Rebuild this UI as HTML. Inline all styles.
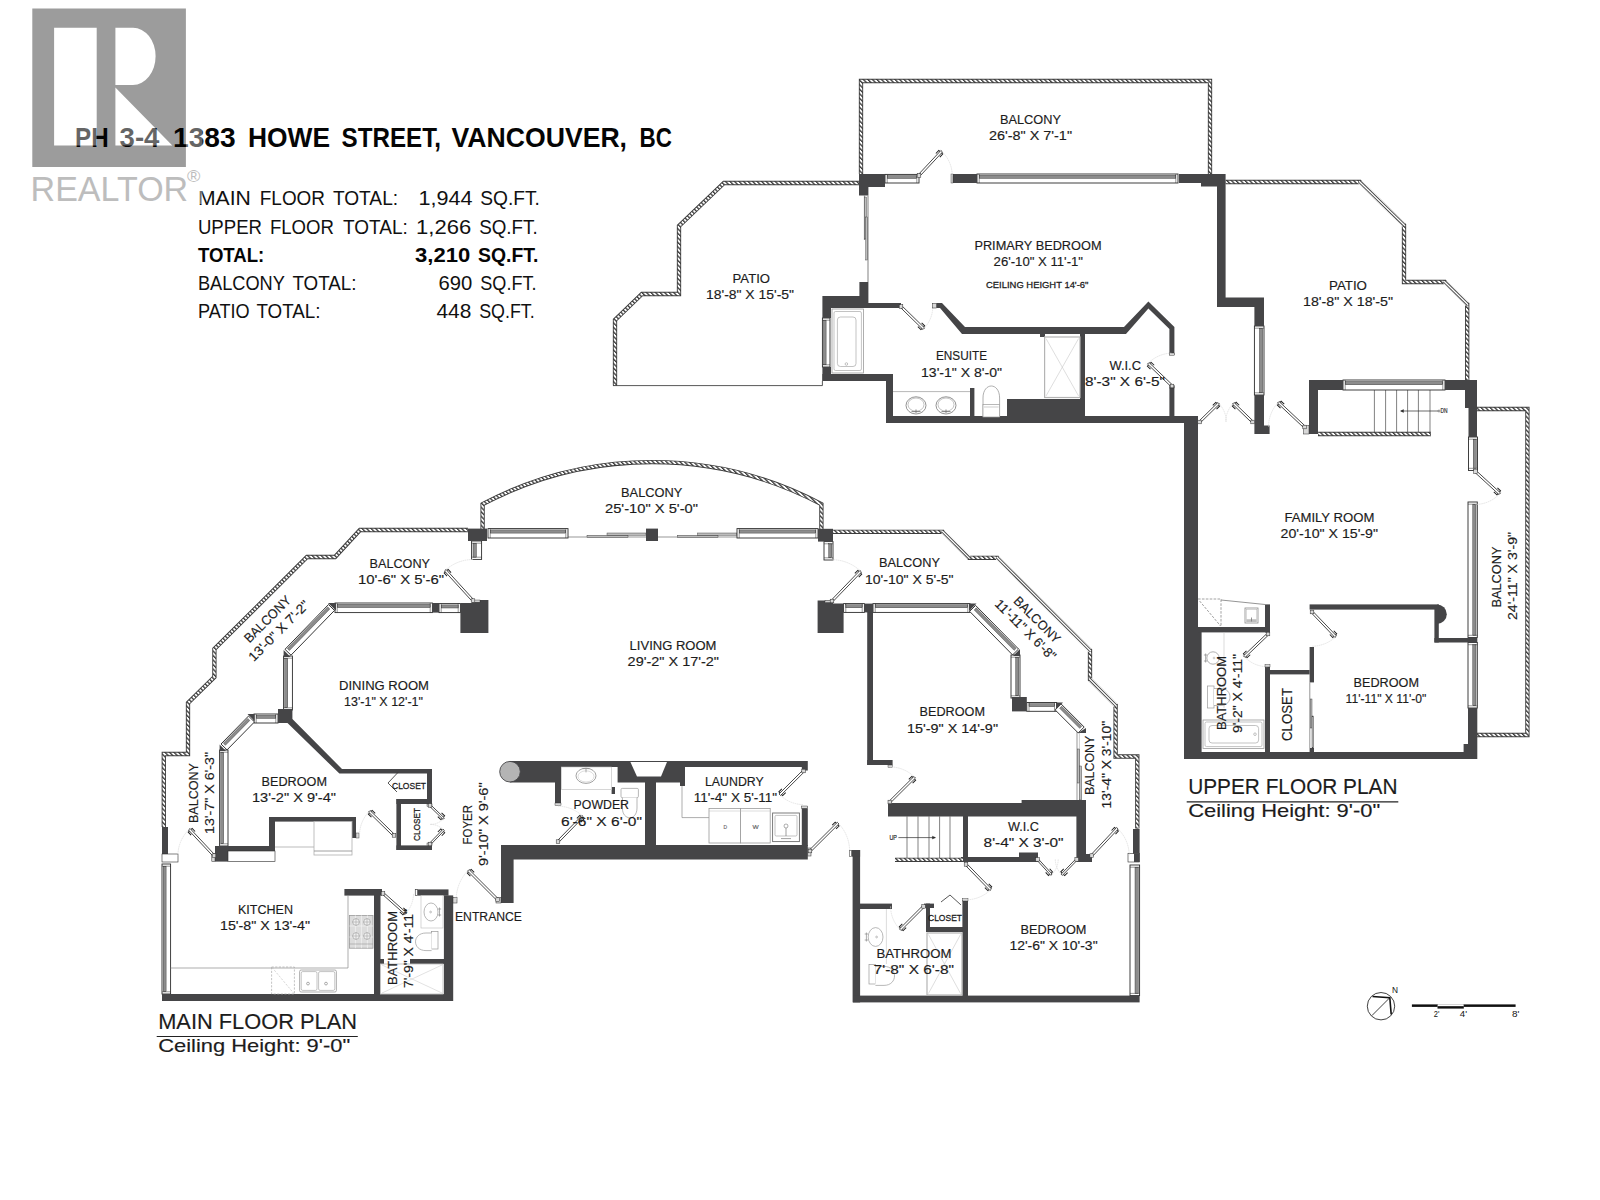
<!DOCTYPE html>
<html lang="en"><head><meta charset="utf-8"><title>PH 3-4 1383 Howe Street, Vancouver, BC - Floor Plan</title>
<style>
html,body{margin:0;padding:0;background:#ffffff;}
body{width:1600px;height:1200px;overflow:hidden;}
svg{display:block;}
svg text{font-family:"Liberation Sans",sans-serif;}
#upper-floor text,#main-floor text{stroke:#1c1c1c;stroke-width:0.16px;}
</style></head><body>
<svg width="1600" height="1200" viewBox="0 0 1600 1200">
<defs><pattern id="hatch" width="3.2" height="3.2" patternUnits="userSpaceOnUse" patternTransform="rotate(-45)"><rect width="3.2" height="3.2" fill="#ffffff"/><rect width="1.35" height="3.2" fill="#3c3c3c"/></pattern></defs>
<rect x="0" y="0" width="1600" height="1200" fill="#ffffff"/>
<g id="upper-floor">
<path d="M861,174 V81 H1210 V174" fill="none" stroke="#3c3c3c" stroke-width="4.3" stroke-linejoin="miter"/>
<path d="M861,174 V81 H1210 V174" fill="none" stroke="url(#hatch)" stroke-width="2.5" stroke-linejoin="miter"/>
<path d="M859,183 H724 L679,226 V294 H642 L615,320 V385.6" fill="none" stroke="#3c3c3c" stroke-width="4.3" stroke-linejoin="miter"/>
<path d="M859,183 H724 L679,226 V294 H642 L615,320 V385.6" fill="none" stroke="url(#hatch)" stroke-width="2.5" stroke-linejoin="miter"/>
<line x1="613" y1="385.6" x2="822.4" y2="385.6" stroke="#2c2c2c" stroke-width="0.8"/>
<line x1="822.4" y1="381" x2="822.4" y2="385.6" stroke="#2c2c2c" stroke-width="0.8"/>
<path d="M1225.6,182 H1360 L1404,225 V282 H1445 L1467.2,304 V380" fill="none" stroke="#3c3c3c" stroke-width="4.3" stroke-linejoin="miter"/>
<path d="M1225.6,182 H1360 L1404,225 V282 H1445 L1467.2,304 V380" fill="none" stroke="url(#hatch)" stroke-width="2.5" stroke-linejoin="miter"/>
<path d="M1477,409 H1527.4 V735 H1477" fill="none" stroke="#3c3c3c" stroke-width="4.3" stroke-linejoin="miter"/>
<path d="M1477,409 H1527.4 V735 H1477" fill="none" stroke="url(#hatch)" stroke-width="2.5" stroke-linejoin="miter"/>
<path d="M1360,182 L1404,225" fill="none" stroke="#ffffff" stroke-width="4.8"/>
<path d="M1359.1,181.2 L1404.9,225.8" fill="none" stroke="#3c3c3c" stroke-width="3.1"/>
<path d="M1359.1,181.2 L1404.9,225.8" fill="none" stroke="#ffffff" stroke-width="1.3"/>
<path d="M1445,282 L1467.2,304" fill="none" stroke="#ffffff" stroke-width="4.8"/>
<path d="M1444.1,281.2 L1468.1,304.8" fill="none" stroke="#3c3c3c" stroke-width="3.1"/>
<path d="M1444.1,281.2 L1468.1,304.8" fill="none" stroke="#ffffff" stroke-width="1.3"/>
<line x1="868" y1="195.6" x2="868" y2="282" stroke="#2c2c2c" stroke-width="0.6"/>
<line x1="864.4" y1="195.6" x2="864.4" y2="240" stroke="#2c2c2c" stroke-width="0.5"/>
<rect x="864.6" y="197" width="1.8" height="42" fill="#bdbdbd" stroke="#2c2c2c" stroke-width="0.4"/>
<rect x="865.8" y="217" width="1.8" height="43" fill="#bdbdbd" stroke="#2c2c2c" stroke-width="0.4"/>
<rect x="885" y="174.4" width="34" height="8.6" fill="#ffffff" stroke="#2c2c2c" stroke-width="0.9"/>
<rect x="887.2" y="175.6" width="29.6" height="2.9" fill="#8c8c8c" stroke="#2c2c2c" stroke-width="0.4"/>
<line x1="887.2" y1="174.4" x2="887.2" y2="183" stroke="#2c2c2c" stroke-width="0.5"/>
<line x1="916.8" y1="174.4" x2="916.8" y2="183" stroke="#2c2c2c" stroke-width="0.5"/>
<rect x="977" y="174" width="201" height="9" fill="#ffffff" stroke="#2c2c2c" stroke-width="0.9"/>
<rect x="979.2" y="175.3" width="196.6" height="3.1" fill="#8c8c8c" stroke="#2c2c2c" stroke-width="0.4"/>
<line x1="979.2" y1="174" x2="979.2" y2="183" stroke="#2c2c2c" stroke-width="0.5"/>
<line x1="1175.8" y1="174" x2="1175.8" y2="183" stroke="#2c2c2c" stroke-width="0.5"/>
<rect x="1254.4" y="326" width="9.6" height="69" fill="#ffffff" stroke="#2c2c2c" stroke-width="0.9"/>
<rect x="1259.4" y="328.2" width="3.3" height="64.6" fill="#8c8c8c" stroke="#2c2c2c" stroke-width="0.4"/>
<line x1="1254.4" y1="328.2" x2="1264" y2="328.2" stroke="#2c2c2c" stroke-width="0.5"/>
<line x1="1254.4" y1="392.8" x2="1264" y2="392.8" stroke="#2c2c2c" stroke-width="0.5"/>
<rect x="822.4" y="318" width="7.6" height="49" fill="#ffffff" stroke="#2c2c2c" stroke-width="0.9"/>
<rect x="823.5" y="320.2" width="2.6" height="44.6" fill="#8c8c8c" stroke="#2c2c2c" stroke-width="0.4"/>
<line x1="822.4" y1="320.2" x2="830" y2="320.2" stroke="#2c2c2c" stroke-width="0.5"/>
<line x1="822.4" y1="364.8" x2="830" y2="364.8" stroke="#2c2c2c" stroke-width="0.5"/>
<rect x="1343" y="380" width="102" height="10" fill="#ffffff" stroke="#2c2c2c" stroke-width="0.9"/>
<rect x="1345.2" y="381.4" width="97.6" height="3.4" fill="#8c8c8c" stroke="#2c2c2c" stroke-width="0.4"/>
<line x1="1345.2" y1="380" x2="1345.2" y2="390" stroke="#2c2c2c" stroke-width="0.5"/>
<line x1="1442.8" y1="380" x2="1442.8" y2="390" stroke="#2c2c2c" stroke-width="0.5"/>
<rect x="1468.5" y="437" width="9" height="33.5" fill="#ffffff" stroke="#2c2c2c" stroke-width="0.9"/>
<rect x="1473.2" y="439.2" width="3.1" height="29.1" fill="#8c8c8c" stroke="#2c2c2c" stroke-width="0.4"/>
<line x1="1468.5" y1="439.2" x2="1477.5" y2="439.2" stroke="#2c2c2c" stroke-width="0.5"/>
<line x1="1468.5" y1="468.3" x2="1477.5" y2="468.3" stroke="#2c2c2c" stroke-width="0.5"/>
<rect x="1468" y="502" width="9.3" height="135.5" fill="#ffffff" stroke="#2c2c2c" stroke-width="0.9"/>
<rect x="1472.8" y="504.2" width="3.2" height="131.1" fill="#8c8c8c" stroke="#2c2c2c" stroke-width="0.4"/>
<line x1="1468" y1="504.2" x2="1477.3" y2="504.2" stroke="#2c2c2c" stroke-width="0.5"/>
<line x1="1468" y1="635.3" x2="1477.3" y2="635.3" stroke="#2c2c2c" stroke-width="0.5"/>
<rect x="1468" y="642.5" width="9.3" height="65.5" fill="#ffffff" stroke="#2c2c2c" stroke-width="0.9"/>
<rect x="1472.8" y="644.7" width="3.2" height="61.1" fill="#8c8c8c" stroke="#2c2c2c" stroke-width="0.4"/>
<line x1="1468" y1="644.7" x2="1477.3" y2="644.7" stroke="#2c2c2c" stroke-width="0.5"/>
<line x1="1468" y1="705.8" x2="1477.3" y2="705.8" stroke="#2c2c2c" stroke-width="0.5"/>
<polygon points="859,174 885,174 885,187 868.4,187 868.4,195.6 859,195.6" fill="#454547"/>
<rect x="952" y="174" width="25" height="9" fill="#454547"/>
<rect x="951" y="174" width="2" height="9" fill="#d8d8d8" stroke="#2c2c2c" stroke-width="0.4"/>
<polygon points="1179,174 1225.6,174 1225.6,297.4 1264,297.4 1264,326 1254.4,326 1254.4,307 1217,307 1217,186.4 1201,186.4 1201,183 1179,183" fill="#454547"/>
<polygon points="1254.4,395 1264,395 1264,425.6 1269.6,425.6 1269.6,434 1254.4,434" fill="#454547"/>
<polygon points="859.4,282 868.4,282 868.4,303 901,303 901,308 831,308 831,318 822.4,318 822.4,296 859.4,296" fill="#454547"/>
<rect x="822.4" y="367" width="8.6" height="14" fill="#454547"/>
<rect x="822.4" y="374" width="70.6" height="7" fill="#454547"/>
<rect x="886" y="374" width="7" height="49" fill="#454547"/>
<rect x="886" y="416" width="312" height="7" fill="#454547"/>
<rect x="970" y="388" width="4.4" height="29" fill="#454547"/>
<rect x="1007" y="399" width="78" height="18" fill="#454547"/>
<rect x="1080" y="334" width="5" height="83" fill="#454547"/>
<rect x="1184" y="416" width="14" height="343" fill="#454547"/>
<rect x="1184" y="628" width="17.6" height="131" fill="#454547"/>
<rect x="1184" y="752" width="293" height="7" fill="#454547"/>
<polygon points="936.4,303 942,303 965,327 1124,327 1148.4,301.6 1174.4,327 1174.4,355 1169.4,355 1169.4,329 1148.4,308.6 1126,334 962,334 940,308 936.4,308" fill="#454547"/>
<rect x="1040" y="334" width="5" height="3" fill="#454547"/>
<rect x="1169.4" y="386" width="5" height="30" fill="#454547"/>
<rect x="1169.4" y="353" width="5" height="2.4" fill="#d8d8d8" stroke="#2c2c2c" stroke-width="0.4"/>
<rect x="1169.4" y="385.6" width="5" height="2.4" fill="#d8d8d8" stroke="#2c2c2c" stroke-width="0.4"/>
<polygon points="1309,380 1343,380 1343,390 1318,390 1318,434 1309,434" fill="#454547"/>
<rect x="1303.6" y="425.6" width="5.4" height="8.4" fill="#d8d8d8" stroke="#2c2c2c" stroke-width="0.5"/>
<polygon points="1445,380 1477,380 1477,437 1468.5,437 1468.5,408 1465,408 1465,390 1445,390" fill="#454547"/>
<rect x="1309.6" y="604.4" width="129.4" height="5.2" fill="#454547"/>
<path d="M1437,604.4 A9.8,9.8 0 0 1 1437,624 Z" fill="#454547"/>
<rect x="1434.4" y="609" width="4.4" height="33.5" fill="#454547"/>
<rect x="1434.4" y="638" width="42.6" height="4.5" fill="#454547"/>
<rect x="1468" y="637.5" width="9.3" height="5" fill="#454547"/>
<rect x="1309.6" y="647" width="4.4" height="35.4" fill="#454547"/>
<rect x="1266" y="670" width="43.6" height="4.4" fill="#454547"/>
<rect x="1265" y="666" width="5" height="86" fill="#454547"/>
<rect x="1198" y="627" width="72" height="5.4" fill="#454547"/>
<rect x="1265" y="604.4" width="5" height="28" fill="#454547"/>
<rect x="1468" y="708" width="9.3" height="51" fill="#454547"/>
<rect x="1463.6" y="744" width="4.4" height="8" fill="#454547"/>
<rect x="1309.6" y="748" width="4.4" height="4" fill="#454547"/>
<line x1="1309.8" y1="682.4" x2="1309.8" y2="748" stroke="#2c2c2c" stroke-width="0.5"/>
<rect x="1310.4" y="699" width="1.6" height="29" fill="#bdbdbd" stroke="#2c2c2c" stroke-width="0.4"/>
<rect x="1312" y="716" width="1.6" height="32" fill="#bdbdbd" stroke="#2c2c2c" stroke-width="0.4"/>
<line x1="1374.4" y1="390" x2="1374.4" y2="433" stroke="#2c2c2c" stroke-width="0.6"/>
<line x1="1385.6" y1="390" x2="1385.6" y2="433" stroke="#2c2c2c" stroke-width="0.6"/>
<line x1="1396.6" y1="390" x2="1396.6" y2="433" stroke="#2c2c2c" stroke-width="0.6"/>
<line x1="1407.6" y1="390" x2="1407.6" y2="433" stroke="#2c2c2c" stroke-width="0.6"/>
<line x1="1418.4" y1="390" x2="1418.4" y2="433" stroke="#2c2c2c" stroke-width="0.6"/>
<line x1="1430" y1="390" x2="1430" y2="433" stroke="#2c2c2c" stroke-width="0.6"/>
<path d="M1318,434 H1431" fill="none" stroke="#3c3c3c" stroke-width="4.3" stroke-linejoin="miter"/>
<path d="M1318,434 H1431" fill="none" stroke="url(#hatch)" stroke-width="2.5" stroke-linejoin="miter"/>
<line x1="1401" y1="411" x2="1439" y2="411" stroke="#2c2c2c" stroke-width="0.7"/>
<path d="M1403.5,409.6 L1400.5,411 L1403.5,412.4 Z" fill="#2c2c2c" stroke="#2c2c2c" stroke-width="0.4"/>
<circle cx="1439" cy="411" r="1" fill="#fff" stroke="#2c2c2c" stroke-width="0.5"/>
<text x="1440.6" y="413.2" font-size="6.4" textLength="7" lengthAdjust="spacingAndGlyphs" fill="#1c1c1c">DN</text>
<rect x="832" y="309" width="31.6" height="64" fill="#fff" stroke="#9a9a9a" stroke-width="0.8"/>
<rect x="834" y="311.5" width="27.4" height="59" fill="#fff" stroke="#9a9a9a" stroke-width="0.6" rx="1.5"/>
<rect x="837.4" y="317" width="18.6" height="49.5" fill="#fff" stroke="#9a9a9a" stroke-width="0.6" rx="3"/>
<circle cx="846.4" cy="364" r="1.3" fill="none" stroke="#9a9a9a" stroke-width="0.6"/>
<line x1="893" y1="391.6" x2="970" y2="391.6" stroke="#9a9a9a" stroke-width="0.7"/>
<ellipse cx="916" cy="405.4" rx="10" ry="8.6" fill="none" stroke="#777" stroke-width="0.8"/>
<ellipse cx="916" cy="404.6" rx="8" ry="6.6" fill="none" stroke="#9a9a9a" stroke-width="0.6"/>
<path d="M916,409.5 v3.4 M911.5,411.6 h9" fill="none" stroke="#777" stroke-width="0.9"/>
<ellipse cx="946" cy="405.4" rx="10" ry="8.6" fill="none" stroke="#777" stroke-width="0.8"/>
<ellipse cx="946" cy="404.6" rx="8" ry="6.6" fill="none" stroke="#9a9a9a" stroke-width="0.6"/>
<path d="M946,409.5 v3.4 M941.5,411.6 h9" fill="none" stroke="#777" stroke-width="0.9"/>
<path d="M983,417 V398 C983,382 999.6,382 999.6,398 V417" fill="#fff" stroke="#9a9a9a" stroke-width="0.8"/>
<rect x="983" y="404.5" width="16.6" height="12.5" fill="#fff" stroke="#9a9a9a" stroke-width="0.7"/>
<line x1="984" y1="407" x2="998.6" y2="407" stroke="#9a9a9a" stroke-width="0.5"/>
<rect x="1044.6" y="337" width="35.4" height="60.5" fill="#fff" stroke="#b4b4b4" stroke-width="1.2"/>
<path d="M1046,338.5 L1078.6,396 M1078.6,338.5 L1046,396" fill="none" stroke="#c8c8c8" stroke-width="0.6"/>
<path d="M1198,599 H1221 V626.5 M1199.6,601 L1220.6,626" fill="none" stroke="#8a8a8a" stroke-width="0.8" stroke-dasharray="2.6 1.3"/>
<path d="M1221,600 L1265,604.5" fill="none" stroke="#7a7a7a" stroke-width="0.8"/>
<rect x="1245" y="608" width="13" height="15" fill="#fff" stroke="#8a8a8a" stroke-width="0.8"/>
<rect x="1246.2" y="609.4" width="10.6" height="10" fill="#fff" stroke="#b0b0b0" stroke-width="0.5"/>
<rect x="1246.2" y="619.6" width="10.6" height="2.4" fill="#bdbdbd"/>
<path d="M1251.5,617.5 v4" fill="none" stroke="#777" stroke-width="0.8"/>
<path d="M1224,632.4 V708" fill="none" stroke="#c4c4c4" stroke-width="0.6"/>
<circle cx="1213" cy="658" r="6.2" fill="none" stroke="#9a9a9a" stroke-width="0.8"/>
<circle cx="1214" cy="658" r="0.9" fill="none" stroke="#999" stroke-width="0.5"/>
<path d="M1205.6,653.5 v9 M1203.9,655 h3.4 M1203.9,661 h3.4" fill="none" stroke="#8a8a8a" stroke-width="0.7"/>
<rect x="1207.5" y="686" width="6.5" height="22" fill="#fff" stroke="#9a9a9a" stroke-width="0.7"/>
<path d="M1214,688.5 H1221 C1233,688.5 1233,705.5 1221,705.5 H1214" fill="#fff" stroke="#9a9a9a" stroke-width="0.7"/>
<rect x="1203" y="720" width="61" height="28.6" fill="#fff" stroke="#9a9a9a" stroke-width="0.8"/>
<rect x="1205" y="722" width="57" height="24.6" fill="#fff" stroke="#9a9a9a" stroke-width="0.6" rx="1.5"/>
<rect x="1209" y="725.5" width="49.6" height="17.5" fill="#fff" stroke="#9a9a9a" stroke-width="0.6" rx="3"/>
<circle cx="1255" cy="734.2" r="1.3" fill="none" stroke="#9a9a9a" stroke-width="0.6"/>
<path d="M941.7,151.3 A33.2,33.2 0 0 1 952.2,175.5" fill="none" stroke="#dadada" stroke-width="0.7" stroke-dasharray="1.6 0.6"/>
<g transform="translate(919,175.5) rotate(-46.9)">
<rect x="0" y="-1.1" width="33.2" height="2.2" fill="#ffffff" stroke="#2c2c2c" stroke-width="0.8"/>
<path d="M27.6,-2.7 h4.2 v1.5 M27.6,2.7 h4.2 v-1.5" fill="none" stroke="#222" stroke-width="1"/>
</g>
<rect x="917.2" y="173.7" width="3.6" height="3.6" fill="#d8d8d8" stroke="#2c2c2c" stroke-width="0.5"/>
<path d="M923.7,328.7 A31.8,31.8 0 0 0 932.8,306.5" fill="none" stroke="#dadada" stroke-width="0.7" stroke-dasharray="1.6 0.6"/>
<g transform="translate(901,306.5) rotate(44.3)">
<rect x="0" y="-1.1" width="31.8" height="2.2" fill="#ffffff" stroke="#2c2c2c" stroke-width="0.8"/>
<path d="M26.2,-2.7 h4.2 v1.5 M26.2,2.7 h4.2 v-1.5" fill="none" stroke="#222" stroke-width="1"/>
</g>
<rect x="899.2" y="304.7" width="3.6" height="3.6" fill="#d8d8d8" stroke="#2c2c2c" stroke-width="0.5"/>
<rect x="932.4" y="303.4" width="4" height="4.6" fill="#d8d8d8" stroke="#2c2c2c" stroke-width="0.5"/>
<path d="M1148.3,363.3 A32.8,32.8 0 0 1 1172,353.2" fill="none" stroke="#dadada" stroke-width="0.7" stroke-dasharray="1.6 0.6"/>
<g transform="translate(1172,386) rotate(-136.3)">
<rect x="0" y="-1.1" width="32.8" height="2.2" fill="#ffffff" stroke="#2c2c2c" stroke-width="0.8"/>
<path d="M27.2,-2.7 h4.2 v1.5 M27.2,2.7 h4.2 v-1.5" fill="none" stroke="#222" stroke-width="1"/>
</g>
<rect x="1170.2" y="384.2" width="3.6" height="3.6" fill="#d8d8d8" stroke="#2c2c2c" stroke-width="0.5"/>
<path d="M1218.7,403.3 A26.7,26.7 0 0 1 1226.3,422" fill="none" stroke="#dadada" stroke-width="0.7" stroke-dasharray="1.6 0.6"/>
<g transform="translate(1199.6,422) rotate(-44.4)">
<rect x="0" y="-1.1" width="26.7" height="2.2" fill="#ffffff" stroke="#2c2c2c" stroke-width="0.8"/>
<path d="M21.1,-2.7 h4.2 v1.5 M21.1,2.7 h4.2 v-1.5" fill="none" stroke="#222" stroke-width="1"/>
</g>
<rect x="1197.8" y="420.2" width="3.6" height="3.6" fill="#d8d8d8" stroke="#2c2c2c" stroke-width="0.5"/>
<path d="M1233.3,403.3 A26.9,26.9 0 0 0 1225.7,422" fill="none" stroke="#dadada" stroke-width="0.7" stroke-dasharray="1.6 0.6"/>
<g transform="translate(1252.6,422) rotate(-135.9)">
<rect x="0" y="-1.1" width="26.9" height="2.2" fill="#ffffff" stroke="#2c2c2c" stroke-width="0.8"/>
<path d="M21.3,-2.7 h4.2 v1.5 M21.3,2.7 h4.2 v-1.5" fill="none" stroke="#222" stroke-width="1"/>
</g>
<rect x="1250.8" y="420.2" width="3.6" height="3.6" fill="#d8d8d8" stroke="#2c2c2c" stroke-width="0.5"/>
<path d="M1278.3,402.3 A36.1,36.1 0 0 0 1268.5,427" fill="none" stroke="#dadada" stroke-width="0.7" stroke-dasharray="1.6 0.6"/>
<g transform="translate(1304.6,427) rotate(-136.8)">
<rect x="0" y="-1.1" width="36.1" height="2.2" fill="#ffffff" stroke="#2c2c2c" stroke-width="0.8"/>
<path d="M30.5,-2.7 h4.2 v1.5 M30.5,2.7 h4.2 v-1.5" fill="none" stroke="#222" stroke-width="1"/>
</g>
<rect x="1302.8" y="425.2" width="3.6" height="3.6" fill="#d8d8d8" stroke="#2c2c2c" stroke-width="0.5"/>
<path d="M1499.7,493.7 A32.9,32.9 0 0 1 1475.5,504.4" fill="none" stroke="#dadada" stroke-width="0.7" stroke-dasharray="1.6 0.6"/>
<g transform="translate(1475.5,471.5) rotate(42.5)">
<rect x="0" y="-1.1" width="32.9" height="2.2" fill="#ffffff" stroke="#2c2c2c" stroke-width="0.8"/>
<path d="M27.3,-2.7 h4.2 v1.5 M27.3,2.7 h4.2 v-1.5" fill="none" stroke="#222" stroke-width="1"/>
</g>
<rect x="1473.7" y="469.7" width="3.6" height="3.6" fill="#d8d8d8" stroke="#2c2c2c" stroke-width="0.5"/>
<path d="M1335.7,636.7 A34.2,34.2 0 0 1 1312,646.2" fill="none" stroke="#dadada" stroke-width="0.7" stroke-dasharray="1.6 0.6"/>
<g transform="translate(1312,612) rotate(46.2)">
<rect x="0" y="-1.1" width="34.2" height="2.2" fill="#ffffff" stroke="#2c2c2c" stroke-width="0.8"/>
<path d="M28.6,-2.7 h4.2 v1.5 M28.6,2.7 h4.2 v-1.5" fill="none" stroke="#222" stroke-width="1"/>
</g>
<rect x="1310.2" y="610.2" width="3.6" height="3.6" fill="#d8d8d8" stroke="#2c2c2c" stroke-width="0.5"/>
<path d="M1244.3,656.7 A32.8,32.8 0 0 0 1268,666.8" fill="none" stroke="#dadada" stroke-width="0.7" stroke-dasharray="1.6 0.6"/>
<g transform="translate(1268,634) rotate(136.3)">
<rect x="0" y="-1.1" width="32.8" height="2.2" fill="#ffffff" stroke="#2c2c2c" stroke-width="0.8"/>
<path d="M27.2,-2.7 h4.2 v1.5 M27.2,2.7 h4.2 v-1.5" fill="none" stroke="#222" stroke-width="1"/>
</g>
<rect x="1266.2" y="632.2" width="3.6" height="3.6" fill="#d8d8d8" stroke="#2c2c2c" stroke-width="0.5"/>
<rect x="1265" y="664.5" width="5" height="2.5" fill="#d8d8d8" stroke="#2c2c2c" stroke-width="0.4"/>
<text x="1000" y="124.4" font-size="13.2" textLength="61" lengthAdjust="spacingAndGlyphs" fill="#1c1c1c">BALCONY</text>
<text x="989" y="140.4" font-size="13.2" textLength="83" lengthAdjust="spacingAndGlyphs" fill="#1c1c1c">26'-8" X 7'-1"</text>
<text x="974.4" y="250" font-size="13.2" textLength="127.2" lengthAdjust="spacingAndGlyphs" fill="#1c1c1c">PRIMARY BEDROOM</text>
<text x="993.6" y="266.4" font-size="13.2" textLength="89.4" lengthAdjust="spacingAndGlyphs" fill="#1c1c1c">26'-10" X 11'-1"</text>
<text x="986" y="287.6" font-size="9.7" textLength="102.4" lengthAdjust="spacingAndGlyphs" fill="#1c1c1c" style="stroke-width:0.28px">CEILING HEIGHT 14'-6"</text>
<text x="732.6" y="283" font-size="13.2" textLength="37.4" lengthAdjust="spacingAndGlyphs" fill="#1c1c1c">PATIO</text>
<text x="706" y="299.4" font-size="13.2" textLength="88" lengthAdjust="spacingAndGlyphs" fill="#1c1c1c">18'-8" X 15'-5"</text>
<text x="1329" y="290.4" font-size="13.2" textLength="38" lengthAdjust="spacingAndGlyphs" fill="#1c1c1c">PATIO</text>
<text x="1303" y="306.4" font-size="13.2" textLength="90" lengthAdjust="spacingAndGlyphs" fill="#1c1c1c">18'-8" X 18'-5"</text>
<text x="936" y="360.4" font-size="13.2" textLength="51" lengthAdjust="spacingAndGlyphs" fill="#1c1c1c">ENSUITE</text>
<text x="921" y="377" font-size="13.2" textLength="81" lengthAdjust="spacingAndGlyphs" fill="#1c1c1c">13'-1" X 8'-0"</text>
<text x="1109.4" y="370" font-size="13.2" textLength="31.6" lengthAdjust="spacingAndGlyphs" fill="#1c1c1c">W.I.C</text>
<text x="1085" y="386.4" font-size="13.2" textLength="80" lengthAdjust="spacingAndGlyphs" fill="#1c1c1c">8'-3" X 6'-5"</text>
<text x="1284.4" y="521.6" font-size="13.2" textLength="90" lengthAdjust="spacingAndGlyphs" fill="#1c1c1c">FAMILY ROOM</text>
<text x="1280.6" y="538" font-size="13.2" textLength="97.4" lengthAdjust="spacingAndGlyphs" fill="#1c1c1c">20'-10" X 15'-9"</text>
<text x="1353.6" y="687" font-size="13.2" textLength="65.4" lengthAdjust="spacingAndGlyphs" fill="#1c1c1c">BEDROOM</text>
<text x="1345.6" y="703" font-size="13.2" textLength="80.8" lengthAdjust="spacingAndGlyphs" fill="#1c1c1c">11'-11" X 11'-0"</text>
<text transform="translate(1292,714.5) rotate(-90)" x="-26.5" y="0" font-size="15" textLength="53" lengthAdjust="spacingAndGlyphs" fill="#1c1c1c">CLOSET</text>
<text transform="translate(1225.6,693) rotate(-90)" x="-37" y="0" font-size="13.2" textLength="74" lengthAdjust="spacingAndGlyphs" fill="#1c1c1c">BATHROOM</text>
<text transform="translate(1241.6,693.5) rotate(-90)" x="-39.5" y="0" font-size="13.2" textLength="79" lengthAdjust="spacingAndGlyphs" fill="#1c1c1c">9'-2" X 4'-11"</text>
<text transform="translate(1501,577) rotate(-90)" x="-30.5" y="0" font-size="13.2" textLength="61" lengthAdjust="spacingAndGlyphs" fill="#1c1c1c">BALCONY</text>
<text transform="translate(1516.8,576) rotate(-90)" x="-44" y="0" font-size="13.2" textLength="88" lengthAdjust="spacingAndGlyphs" fill="#1c1c1c">24'-11" X 3'-9"</text>
<text x="1188.2" y="794" font-size="22.9" textLength="209.3" lengthAdjust="spacingAndGlyphs" fill="#1c1c1c">UPPER FLOOR PLAN</text>
<line x1="1186.7" y1="801.8" x2="1398.3" y2="801.8" stroke="#222" stroke-width="1.2"/>
<text x="1188.2" y="817.3" font-size="18.1" textLength="192" lengthAdjust="spacingAndGlyphs" fill="#1c1c1c">Ceiling Height: 9'-0"</text>
</g>
<g id="main-floor">
<path d="M468,530 H360 L335,557 H307 L214.4,649 V677 L188,703 V754 H163.8 V827" fill="none" stroke="#3c3c3c" stroke-width="4.3" stroke-linejoin="miter"/>
<path d="M468,530 H360 L335,557 H307 L214.4,649 V677 L188,703 V754 H163.8 V827" fill="none" stroke="url(#hatch)" stroke-width="2.5" stroke-linejoin="miter"/>
<path d="M482.6,529 V504.2 A362,362 0 0 1 821.4,504.2 V529" fill="none" stroke="#3c3c3c" stroke-width="4.3" stroke-linejoin="miter"/>
<path d="M482.6,529 V504.2 A362,362 0 0 1 821.4,504.2 V529" fill="none" stroke="url(#hatch)" stroke-width="2.5" stroke-linejoin="miter"/>
<path d="M833,531.8 H943 L969,557.8 H997.6 L1090,650.2 V679.6 L1115.6,705.2 V756.5 H1137.3 V828.4" fill="none" stroke="#3c3c3c" stroke-width="4.3" stroke-linejoin="miter"/>
<path d="M833,531.8 H943 L969,557.8 H997.6 L1090,650.2 V679.6 L1115.6,705.2 V756.5 H1137.3 V828.4" fill="none" stroke="url(#hatch)" stroke-width="2.5" stroke-linejoin="miter"/>
<path d="M943,531.8 L969,557.8" fill="none" stroke="#ffffff" stroke-width="4.8"/>
<path d="M942.2,531 L969.8,558.6" fill="none" stroke="#3c3c3c" stroke-width="3.1"/>
<path d="M942.2,531 L969.8,558.6" fill="none" stroke="#ffffff" stroke-width="1.3"/>
<path d="M997.6,557.8 L1090,650.2" fill="none" stroke="#ffffff" stroke-width="4.8"/>
<path d="M996.8,557 L1090.8,651" fill="none" stroke="#3c3c3c" stroke-width="3.1"/>
<path d="M996.8,557 L1090.8,651" fill="none" stroke="#ffffff" stroke-width="1.3"/>
<path d="M1090,679.6 L1115.6,705.2" fill="none" stroke="#ffffff" stroke-width="4.8"/>
<path d="M1089.2,678.8 L1116.4,706" fill="none" stroke="#3c3c3c" stroke-width="3.1"/>
<path d="M1089.2,678.8 L1116.4,706" fill="none" stroke="#ffffff" stroke-width="1.3"/>
<line x1="568" y1="537" x2="646" y2="537" stroke="#2c2c2c" stroke-width="0.5"/>
<rect x="587" y="535.2" width="41" height="2.2" fill="#bdbdbd" stroke="#2c2c2c" stroke-width="0.4"/>
<rect x="607" y="533" width="39" height="2.2" fill="#bdbdbd" stroke="#2c2c2c" stroke-width="0.4"/>
<line x1="658" y1="537" x2="737" y2="537" stroke="#2c2c2c" stroke-width="0.5"/>
<rect x="677.6" y="535.2" width="40.4" height="2.2" fill="#bdbdbd" stroke="#2c2c2c" stroke-width="0.4"/>
<rect x="697.6" y="533" width="39.4" height="2.2" fill="#bdbdbd" stroke="#2c2c2c" stroke-width="0.4"/>
<line x1="1077" y1="732" x2="1077" y2="800" stroke="#2c2c2c" stroke-width="0.5"/>
<line x1="1079.4" y1="732" x2="1079.4" y2="800" stroke="#999" stroke-width="0.5"/>
<rect x="1077.6" y="749" width="2" height="34" fill="#bdbdbd" stroke="#2c2c2c" stroke-width="0.4"/>
<rect x="1079.6" y="766" width="2" height="34" fill="#bdbdbd" stroke="#2c2c2c" stroke-width="0.4"/>
<rect x="488" y="528.6" width="80" height="9.4" fill="#ffffff" stroke="#2c2c2c" stroke-width="0.9"/>
<rect x="490.2" y="529.9" width="75.6" height="3.2" fill="#8c8c8c" stroke="#2c2c2c" stroke-width="0.4"/>
<line x1="490.2" y1="528.6" x2="490.2" y2="538" stroke="#2c2c2c" stroke-width="0.5"/>
<line x1="565.8" y1="528.6" x2="565.8" y2="538" stroke="#2c2c2c" stroke-width="0.5"/>
<rect x="737" y="528.6" width="81" height="9.4" fill="#ffffff" stroke="#2c2c2c" stroke-width="0.9"/>
<rect x="739.2" y="529.9" width="76.6" height="3.2" fill="#8c8c8c" stroke="#2c2c2c" stroke-width="0.4"/>
<line x1="739.2" y1="528.6" x2="739.2" y2="538" stroke="#2c2c2c" stroke-width="0.5"/>
<line x1="815.8" y1="528.6" x2="815.8" y2="538" stroke="#2c2c2c" stroke-width="0.5"/>
<rect x="471.6" y="541" width="10" height="18.4" fill="#ffffff" stroke="#2c2c2c" stroke-width="0.9"/>
<rect x="473" y="543.2" width="3.4" height="14" fill="#8c8c8c" stroke="#2c2c2c" stroke-width="0.4"/>
<line x1="471.6" y1="543.2" x2="481.6" y2="543.2" stroke="#2c2c2c" stroke-width="0.5"/>
<line x1="471.6" y1="557.2" x2="481.6" y2="557.2" stroke="#2c2c2c" stroke-width="0.5"/>
<rect x="824" y="541.6" width="9" height="18.4" fill="#ffffff" stroke="#2c2c2c" stroke-width="0.9"/>
<rect x="828.7" y="543.8" width="3.1" height="14" fill="#8c8c8c" stroke="#2c2c2c" stroke-width="0.4"/>
<line x1="824" y1="543.8" x2="833" y2="543.8" stroke="#2c2c2c" stroke-width="0.5"/>
<line x1="824" y1="557.8" x2="833" y2="557.8" stroke="#2c2c2c" stroke-width="0.5"/>
<rect x="335" y="603" width="97.4" height="9.6" fill="#ffffff" stroke="#2c2c2c" stroke-width="0.9"/>
<rect x="337.2" y="604.3" width="93" height="3.3" fill="#8c8c8c" stroke="#2c2c2c" stroke-width="0.4"/>
<line x1="337.2" y1="603" x2="337.2" y2="612.6" stroke="#2c2c2c" stroke-width="0.5"/>
<line x1="430.2" y1="603" x2="430.2" y2="612.6" stroke="#2c2c2c" stroke-width="0.5"/>
<rect x="439" y="603.6" width="21.4" height="9" fill="#ffffff" stroke="#2c2c2c" stroke-width="0.9"/>
<rect x="441.2" y="604.9" width="17" height="3.1" fill="#8c8c8c" stroke="#2c2c2c" stroke-width="0.4"/>
<line x1="441.2" y1="603.6" x2="441.2" y2="612.6" stroke="#2c2c2c" stroke-width="0.5"/>
<line x1="458.2" y1="603.6" x2="458.2" y2="612.6" stroke="#2c2c2c" stroke-width="0.5"/>
<g transform="translate(331.5,607.5) rotate(134.2)">
<rect x="0" y="-4.2" width="62.4" height="8.4" fill="#ffffff" stroke="#2c2c2c" stroke-width="0.9"/>
<rect x="2.2" y="0.2" width="58" height="2.9" fill="#8c8c8c" stroke="#2c2c2c" stroke-width="0.4"/>
</g>
<rect x="283.6" y="656" width="8.8" height="54" fill="#ffffff" stroke="#2c2c2c" stroke-width="0.9"/>
<rect x="284.8" y="658.2" width="3" height="49.6" fill="#8c8c8c" stroke="#2c2c2c" stroke-width="0.4"/>
<line x1="283.6" y1="658.2" x2="292.4" y2="658.2" stroke="#2c2c2c" stroke-width="0.5"/>
<line x1="283.6" y1="707.8" x2="292.4" y2="707.8" stroke="#2c2c2c" stroke-width="0.5"/>
<rect x="254" y="714" width="24" height="9" fill="#ffffff" stroke="#2c2c2c" stroke-width="0.9"/>
<rect x="256.2" y="715.3" width="19.6" height="3.1" fill="#8c8c8c" stroke="#2c2c2c" stroke-width="0.4"/>
<line x1="256.2" y1="714" x2="256.2" y2="723" stroke="#2c2c2c" stroke-width="0.5"/>
<line x1="275.8" y1="714" x2="275.8" y2="723" stroke="#2c2c2c" stroke-width="0.5"/>
<g transform="translate(251.5,719) rotate(134.5)">
<rect x="0" y="-4.2" width="39.2" height="8.4" fill="#ffffff" stroke="#2c2c2c" stroke-width="0.9"/>
<rect x="2.2" y="0.2" width="34.8" height="2.9" fill="#8c8c8c" stroke="#2c2c2c" stroke-width="0.4"/>
</g>
<rect x="219.6" y="750" width="8.4" height="96" fill="#ffffff" stroke="#2c2c2c" stroke-width="0.9"/>
<rect x="220.8" y="752.2" width="2.9" height="91.6" fill="#8c8c8c" stroke="#2c2c2c" stroke-width="0.4"/>
<line x1="219.6" y1="752.2" x2="228" y2="752.2" stroke="#2c2c2c" stroke-width="0.5"/>
<line x1="219.6" y1="843.8" x2="228" y2="843.8" stroke="#2c2c2c" stroke-width="0.5"/>
<rect x="162" y="864" width="8.6" height="130" fill="#ffffff" stroke="#2c2c2c" stroke-width="0.9"/>
<rect x="163.2" y="866.2" width="2.9" height="125.6" fill="#8c8c8c" stroke="#2c2c2c" stroke-width="0.4"/>
<line x1="162" y1="866.2" x2="170.6" y2="866.2" stroke="#2c2c2c" stroke-width="0.5"/>
<line x1="162" y1="991.8" x2="170.6" y2="991.8" stroke="#2c2c2c" stroke-width="0.5"/>
<rect x="843.6" y="603.6" width="20.8" height="8.8" fill="#ffffff" stroke="#2c2c2c" stroke-width="0.9"/>
<rect x="845.8" y="604.8" width="16.4" height="3" fill="#8c8c8c" stroke="#2c2c2c" stroke-width="0.4"/>
<line x1="845.8" y1="603.6" x2="845.8" y2="612.4" stroke="#2c2c2c" stroke-width="0.5"/>
<line x1="862.2" y1="603.6" x2="862.2" y2="612.4" stroke="#2c2c2c" stroke-width="0.5"/>
<rect x="873" y="603.6" width="97" height="8.8" fill="#ffffff" stroke="#2c2c2c" stroke-width="0.9"/>
<rect x="875.2" y="604.8" width="92.6" height="3" fill="#8c8c8c" stroke="#2c2c2c" stroke-width="0.4"/>
<line x1="875.2" y1="603.6" x2="875.2" y2="612.4" stroke="#2c2c2c" stroke-width="0.5"/>
<line x1="967.8" y1="603.6" x2="967.8" y2="612.4" stroke="#2c2c2c" stroke-width="0.5"/>
<g transform="translate(972.6,608.4) rotate(45.4)">
<rect x="0" y="-4.2" width="61.2" height="8.4" fill="#ffffff" stroke="#2c2c2c" stroke-width="0.9"/>
<rect x="2.2" y="-3" width="56.8" height="2.9" fill="#8c8c8c" stroke="#2c2c2c" stroke-width="0.4"/>
</g>
<rect x="1011" y="655" width="9" height="43" fill="#ffffff" stroke="#2c2c2c" stroke-width="0.9"/>
<rect x="1015.7" y="657.2" width="3.1" height="38.6" fill="#8c8c8c" stroke="#2c2c2c" stroke-width="0.4"/>
<line x1="1011" y1="657.2" x2="1020" y2="657.2" stroke="#2c2c2c" stroke-width="0.5"/>
<line x1="1011" y1="695.8" x2="1020" y2="695.8" stroke="#2c2c2c" stroke-width="0.5"/>
<rect x="1026.8" y="702.5" width="29.9" height="8.8" fill="#ffffff" stroke="#2c2c2c" stroke-width="0.9"/>
<rect x="1029" y="703.7" width="25.5" height="3" fill="#8c8c8c" stroke="#2c2c2c" stroke-width="0.4"/>
<line x1="1029" y1="702.5" x2="1029" y2="711.3" stroke="#2c2c2c" stroke-width="0.5"/>
<line x1="1054.5" y1="702.5" x2="1054.5" y2="711.3" stroke="#2c2c2c" stroke-width="0.5"/>
<g transform="translate(1058,706.8) rotate(45)">
<rect x="0" y="-4.2" width="32.8" height="8.4" fill="#ffffff" stroke="#2c2c2c" stroke-width="0.9"/>
<rect x="2.2" y="-3" width="28.4" height="2.9" fill="#8c8c8c" stroke="#2c2c2c" stroke-width="0.4"/>
</g>
<rect x="1130" y="865" width="9.6" height="130.6" fill="#ffffff" stroke="#2c2c2c" stroke-width="0.9"/>
<rect x="1135" y="867.2" width="3.3" height="126.2" fill="#8c8c8c" stroke="#2c2c2c" stroke-width="0.4"/>
<line x1="1130" y1="867.2" x2="1139.6" y2="867.2" stroke="#2c2c2c" stroke-width="0.5"/>
<line x1="1130" y1="993.4" x2="1139.6" y2="993.4" stroke="#2c2c2c" stroke-width="0.5"/>
<polygon points="328,603 336,603 336,610.5" fill="#454547"/>
<polygon points="283.6,650 283.6,657 290.5,657" fill="#454547"/>
<polygon points="247.5,714 254.6,714 254.6,721" fill="#454547"/>
<polygon points="219.6,744.4 219.6,751 226,751" fill="#454547"/>
<polygon points="969,603.6 976.5,603.6 969,611" fill="#454547"/>
<polygon points="1020,649 1020,656 1013,656" fill="#454547"/>
<polygon points="1056,702.5 1063,702.5 1056,709.5" fill="#454547"/>
<polygon points="1086,728 1086,733 1078,733" fill="#454547"/>
<rect x="468" y="528.6" width="19" height="12.4" fill="#454547"/>
<rect x="646" y="528.6" width="12" height="12.4" fill="#454547"/>
<rect x="818" y="528.8" width="15" height="12.8" fill="#454547"/>
<polygon points="460.4,603 472,603 472,600 488.4,600 488.4,633 460.4,633" fill="#454547"/>
<rect x="472" y="600" width="8" height="2.2" fill="#d0d0d0" stroke="#2c2c2c" stroke-width="0.4"/>
<polygon points="817.6,600.4 833,600.4 833,603.4 843.6,603.4 843.6,633 817.6,633" fill="#454547"/>
<rect x="825" y="600.4" width="8" height="2.2" fill="#d0d0d0" stroke="#2c2c2c" stroke-width="0.4"/>
<rect x="432.4" y="603" width="6.6" height="9.6" fill="#454547"/>
<rect x="278" y="709" width="14.4" height="14" fill="#454547"/>
<polygon points="292.4,719 342,769 432,769 432,804 427,804 427,773.6 339.4,773.6 287.5,723" fill="#454547"/>
<rect x="396.4" y="799" width="35.6" height="5" fill="#454547"/>
<rect x="396.4" y="799" width="4.6" height="51" fill="#454547"/>
<rect x="396.4" y="845.4" width="35.6" height="4.6" fill="#454547"/>
<rect x="427" y="804" width="5" height="2.4" fill="#d8d8d8" stroke="#2c2c2c" stroke-width="0.4"/>
<rect x="427" y="843" width="5" height="2.4" fill="#d8d8d8" stroke="#2c2c2c" stroke-width="0.4"/>
<rect x="215" y="846" width="13" height="15.6" fill="#454547"/>
<rect x="211.8" y="853.6" width="3.2" height="8" fill="#d8d8d8" stroke="#2c2c2c" stroke-width="0.5"/>
<rect x="220" y="846" width="55" height="5" fill="#454547"/>
<rect x="269" y="817" width="6" height="34" fill="#454547"/>
<rect x="269" y="817" width="87" height="4.6" fill="#454547"/>
<rect x="351" y="817" width="5" height="21" fill="#454547"/>
<rect x="356" y="833" width="3" height="5" fill="#d8d8d8" stroke="#2c2c2c" stroke-width="0.4"/>
<rect x="228" y="851" width="47" height="10.6" fill="#ffffff" stroke="#2c2c2c" stroke-width="0.6"/>
<line x1="275" y1="847" x2="314" y2="847" stroke="#777" stroke-width="0.5"/>
<rect x="162" y="827" width="6" height="27" fill="#454547"/>
<rect x="162" y="854" width="16" height="8" fill="#ffffff" stroke="#2c2c2c" stroke-width="0.6"/>
<rect x="162" y="994" width="291" height="7" fill="#454547"/>
<rect x="344.4" y="889" width="37.6" height="6.6" fill="#454547"/>
<rect x="374" y="889" width="6.5" height="105" fill="#454547"/>
<rect x="415.2" y="889.4" width="33.3" height="6.2" fill="#454547"/>
<rect x="443.9" y="895.4" width="9.3" height="105.6" fill="#454547"/>
<rect x="380" y="959" width="4" height="5" fill="#454547"/>
<rect x="410" y="959" width="34" height="5" fill="#454547"/>
<rect x="415.2" y="889.6" width="2.4" height="6" fill="#ffffff" stroke="#2c2c2c" stroke-width="0.5"/>
<rect x="453" y="897.6" width="4" height="5.4" fill="#d8d8d8" stroke="#2c2c2c" stroke-width="0.5"/>
<polygon points="510,761 807.8,761 807.8,770.4 801.8,770.4 801.8,767 685,767 685,786 680,786 680,782.4 656,782.4 656,845 645,845 645,782.4 617.6,782.4 617.6,767 561,767 561,805 555,805 555,782.4 510,782.4" fill="#454547"/>
<polygon points="630.4,762 667,762 661,776.4 637,776.4" fill="#ffffff"/>
<circle cx="510" cy="771.7" r="10.3" fill="#b4b4b4" stroke="#454547" stroke-width="0.9"/>
<rect x="611.6" y="787" width="3.4" height="7" fill="#454547"/>
<rect x="555" y="803" width="6" height="2.6" fill="#d8d8d8" stroke="#2c2c2c" stroke-width="0.4"/>
<polygon points="501,845 807.8,845 807.8,859.5 513.6,859.5 513.6,903 501,903" fill="#454547"/>
<rect x="801.8" y="806" width="6" height="40" fill="#454547"/>
<rect x="801.8" y="806" width="6" height="2.4" fill="#d8d8d8" stroke="#2c2c2c" stroke-width="0.4"/>
<rect x="496" y="897.6" width="5" height="5.4" fill="#d8d8d8" stroke="#2c2c2c" stroke-width="0.5"/>
<rect x="807.8" y="848" width="3.2" height="8" fill="#d8d8d8" stroke="#2c2c2c" stroke-width="0.5"/>
<rect x="852.6" y="850" width="7.5" height="152.4" fill="#454547"/>
<rect x="851.4" y="850" width="8.7" height="6.7" fill="#454547"/>
<rect x="849.6" y="850.4" width="1.9" height="6.2" fill="#ffffff" stroke="#2c2c2c" stroke-width="0.5"/>
<rect x="853" y="995.6" width="286.6" height="6.8" fill="#454547"/>
<polygon points="888,803 1021.6,803 1021.6,800 1086,800 1086,854 1092,854 1092,862 1076.4,862 1076.4,816.4 888,816.4" fill="#454547"/>
<rect x="963" y="816" width="5" height="46" fill="#454547"/>
<polygon points="961,857 1019,857 1019,852.4 1038,852.4 1038,862 961,862" fill="#454547"/>
<rect x="1133" y="829" width="6.6" height="25" fill="#454547"/>
<rect x="1128" y="853.6" width="11.6" height="8.4" fill="#ffffff" stroke="#2c2c2c" stroke-width="0.6"/>
<rect x="1134" y="853.6" width="5.6" height="8.4" fill="#454547"/>
<rect x="860" y="903.6" width="32" height="5.4" fill="#454547"/>
<rect x="924" y="903.6" width="10" height="4.4" fill="#454547"/>
<rect x="926" y="903.6" width="4" height="28.4" fill="#454547"/>
<rect x="926" y="927" width="42" height="5" fill="#454547"/>
<rect x="962.4" y="900" width="5.6" height="96" fill="#454547"/>
<rect x="962.4" y="898.6" width="5.6" height="2.4" fill="#d8d8d8" stroke="#2c2c2c" stroke-width="0.4"/>
<rect x="867.2" y="604.5" width="5.8" height="160.5" fill="#454547"/>
<rect x="867.2" y="760" width="25.4" height="5" fill="#454547"/>
<rect x="864.4" y="603.6" width="8.6" height="8.8" fill="#454547"/>
<rect x="888" y="765" width="4.6" height="2.4" fill="#d8d8d8" stroke="#2c2c2c" stroke-width="0.4"/>
<rect x="1012" y="697" width="14.8" height="14.4" fill="#454547"/>
<line x1="907" y1="816.4" x2="907" y2="859" stroke="#2c2c2c" stroke-width="0.6"/>
<line x1="918" y1="816.4" x2="918" y2="859" stroke="#2c2c2c" stroke-width="0.6"/>
<line x1="929" y1="816.4" x2="929" y2="859" stroke="#2c2c2c" stroke-width="0.6"/>
<line x1="939.6" y1="816.4" x2="939.6" y2="859" stroke="#2c2c2c" stroke-width="0.6"/>
<line x1="950" y1="816.4" x2="950" y2="859" stroke="#2c2c2c" stroke-width="0.6"/>
<path d="M895,859.8 H963" fill="none" stroke="#3c3c3c" stroke-width="4.3" stroke-linejoin="miter"/>
<path d="M895,859.8 H963" fill="none" stroke="url(#hatch)" stroke-width="2.5" stroke-linejoin="miter"/>
<line x1="898.4" y1="837.6" x2="935" y2="837.6" stroke="#2c2c2c" stroke-width="0.7"/>
<path d="M932.4,836.2 L935.6,837.6 L932.4,839 Z" fill="#2c2c2c" stroke="#2c2c2c" stroke-width="0.4"/>
<text x="889.4" y="839.8" font-size="6.4" textLength="7.5" lengthAdjust="spacingAndGlyphs" fill="#1c1c1c">UP</text>
<path d="M348,895.6 V968 H170.6" fill="none" stroke="#8a8a8a" stroke-width="0.7"/>
<rect x="349.4" y="915.4" width="23.6" height="32.8" fill="#dcdcdc" stroke="#9a9a9a" stroke-width="0.8"/>
<path d="M349.4,926 H373 M349.4,937 H373 M355.4,915.4 V948.2 M361.4,915.4 V948.2 M367.4,915.4 V948.2" fill="none" stroke="#f4f4f4" stroke-width="0.7"/>
<circle cx="356" cy="922" r="3.3" fill="#f0f0f0" stroke="#9a9a9a" stroke-width="0.6"/>
<path d="M352,922 h8 M356,918 v8" stroke="#9a9a9a" stroke-width="0.5"/>
<circle cx="367" cy="922" r="3.3" fill="#f0f0f0" stroke="#9a9a9a" stroke-width="0.6"/>
<path d="M363,922 h8 M367,918 v8" stroke="#9a9a9a" stroke-width="0.5"/>
<circle cx="356" cy="936" r="3.3" fill="#f0f0f0" stroke="#9a9a9a" stroke-width="0.6"/>
<path d="M352,936 h8 M356,932 v8" stroke="#9a9a9a" stroke-width="0.5"/>
<circle cx="367" cy="936" r="3.3" fill="#f0f0f0" stroke="#9a9a9a" stroke-width="0.6"/>
<path d="M363,936 h8 M367,932 v8" stroke="#9a9a9a" stroke-width="0.5"/>
<line x1="349" y1="944" x2="373" y2="944" stroke="#9a9a9a" stroke-width="0.6"/>
<rect x="271.6" y="967" width="22.8" height="27" fill="none" stroke="#aaa" stroke-width="0.7" stroke-dasharray="2.2 1.4"/>
<line x1="272" y1="967.4" x2="294" y2="993.6" stroke="#bbb" stroke-width="0.6" stroke-dasharray="2.2 1.4"/>
<rect x="299.6" y="970" width="36.8" height="22" fill="#fff" stroke="#9a9a9a" stroke-width="0.8" rx="1.5"/>
<rect x="301.2" y="971.6" width="15.8" height="18.8" fill="#fff" stroke="#9a9a9a" stroke-width="0.6" rx="1.5"/>
<rect x="318.6" y="971.6" width="16.2" height="18.8" fill="#fff" stroke="#9a9a9a" stroke-width="0.6" rx="1.5"/>
<circle cx="308" cy="983.6" r="1.4" fill="none" stroke="#777" stroke-width="0.6"/>
<circle cx="326" cy="983.6" r="1.4" fill="none" stroke="#777" stroke-width="0.6"/>
<rect x="314" y="821.6" width="38" height="33.4" fill="#fff" stroke="#b0b0b0" stroke-width="0.8"/>
<line x1="314" y1="851" x2="352" y2="851" stroke="#888" stroke-width="0.8"/>
<rect x="421" y="895.6" width="22" height="32.4" fill="#fff" stroke="#bbb" stroke-width="0.6"/>
<ellipse cx="431" cy="912" rx="7" ry="9" fill="none" stroke="#9a9a9a" stroke-width="0.7"/>
<path d="M439.5,907.5 v9 M437.8,909 h3.4 M437.8,915 h3.4" fill="none" stroke="#8a8a8a" stroke-width="0.7"/>
<circle cx="430.6" cy="912" r="0.9" fill="none" stroke="#888" stroke-width="0.5"/>
<rect x="431.6" y="931.4" width="6.4" height="17.6" fill="#fff" stroke="#9a9a9a" stroke-width="0.7"/>
<path d="M431.6,933 H426 C412,933 412,950.6 426,950.6 H431.6" fill="#fff" stroke="#9a9a9a" stroke-width="0.7"/>
<rect x="380.5" y="964" width="62.5" height="30" fill="#fff" stroke="#c0c0c0" stroke-width="0.9"/>
<path d="M382,965 L442,993 M442,965 L382,993" fill="none" stroke="#cfcfcf" stroke-width="0.6"/>
<rect x="561.6" y="767" width="50" height="22.6" fill="#fff" stroke="#bbb" stroke-width="0.6"/>
<ellipse cx="586" cy="775.8" rx="10" ry="7.6" fill="none" stroke="#8a8a8a" stroke-width="0.8"/>
<ellipse cx="586" cy="776.4" rx="8" ry="5.6" fill="none" stroke="#bbb" stroke-width="0.5"/>
<path d="M586,768.4 v4 M582.4,768.6 h7.2" fill="none" stroke="#8a8a8a" stroke-width="0.7"/>
<rect x="621" y="788.4" width="17.4" height="9.2" fill="#fff" stroke="#9a9a9a" stroke-width="0.7" rx="1.2"/>
<path d="M622.4,797.6 V808 C622.4,821 637,821 637,808 V797.6" fill="#fff" stroke="#9a9a9a" stroke-width="0.7"/>
<path d="M682,786 V817.6 H709" fill="none" stroke="#8a8a8a" stroke-width="0.7"/>
<rect x="709" y="808.6" width="31.6" height="34.4" fill="#fff" stroke="#9a9a9a" stroke-width="0.8"/>
<rect x="740.6" y="808.6" width="29.6" height="34.4" fill="#fff" stroke="#9a9a9a" stroke-width="0.8"/>
<line x1="709" y1="811" x2="770.2" y2="811" stroke="#bbb" stroke-width="0.5"/>
<text x="723.4" y="829.4" font-size="5.4" textLength="3.6" lengthAdjust="spacingAndGlyphs" fill="#999">D</text>
<text x="752.4" y="829.4" font-size="5.4" textLength="6.2" lengthAdjust="spacingAndGlyphs" fill="#999">W</text>
<rect x="772.6" y="813" width="26.8" height="28.6" fill="#fff" stroke="#6e6e6e" stroke-width="0.9"/>
<rect x="775" y="815.4" width="22" height="20.6" fill="#fff" stroke="#9a9a9a" stroke-width="0.6" rx="1.2"/>
<circle cx="786" cy="826" r="2" fill="none" stroke="#777" stroke-width="0.6"/>
<path d="M786,828 v8 M781,838.6 h10" fill="none" stroke="#777" stroke-width="0.7"/>
<path d="M886.4,909 V964" fill="none" stroke="#c4c4c4" stroke-width="0.6"/>
<ellipse cx="875.6" cy="937" rx="7.4" ry="9.4" fill="none" stroke="#9a9a9a" stroke-width="0.7"/>
<circle cx="876.6" cy="937" r="0.9" fill="none" stroke="#888" stroke-width="0.5"/>
<path d="M866.4,932.5 v9 M864.7,934 h3.4 M864.7,940 h3.4" fill="none" stroke="#8a8a8a" stroke-width="0.7"/>
<rect x="869" y="964.6" width="6.4" height="19.4" fill="#fff" stroke="#9a9a9a" stroke-width="0.7"/>
<path d="M875.4,966.4 H884 C898,966.4 898,985.4 884,985.4 H875.4" fill="#fff" stroke="#9a9a9a" stroke-width="0.7"/>
<rect x="927" y="933" width="35" height="62" fill="#fff" stroke="#b4b4b4" stroke-width="1.2"/>
<path d="M928.4,934.4 L960.6,993.6 M960.6,934.4 L928.4,993.6" fill="none" stroke="#c8c8c8" stroke-width="0.6"/>
<path d="M941,902 L950,895 L961,905" fill="none" stroke="#2c2c2c" stroke-width="0.8"/>
<path d="M398,772.4 L388,783 L397,792" fill="none" stroke="#2c2c2c" stroke-width="0.8"/>
<path d="M445.3,570.3 A41.1,41.1 0 0 1 473,559.5" fill="none" stroke="#dadada" stroke-width="0.7" stroke-dasharray="1.6 0.6"/>
<g transform="translate(473,600.6) rotate(-132.4)">
<rect x="0" y="-1.1" width="41.1" height="2.2" fill="#ffffff" stroke="#2c2c2c" stroke-width="0.8"/>
<path d="M35.5,-2.7 h4.2 v1.5 M35.5,2.7 h4.2 v-1.5" fill="none" stroke="#222" stroke-width="1"/>
</g>
<rect x="471.2" y="598.8" width="3.6" height="3.6" fill="#d8d8d8" stroke="#2c2c2c" stroke-width="0.5"/>
<path d="M860.7,571.3 A41.3,41.3 0 0 0 832,559.7" fill="none" stroke="#dadada" stroke-width="0.7" stroke-dasharray="1.6 0.6"/>
<g transform="translate(832,601) rotate(-46)">
<rect x="0" y="-1.1" width="41.3" height="2.2" fill="#ffffff" stroke="#2c2c2c" stroke-width="0.8"/>
<path d="M35.7,-2.7 h4.2 v1.5 M35.7,2.7 h4.2 v-1.5" fill="none" stroke="#222" stroke-width="1"/>
</g>
<rect x="830.2" y="599.2" width="3.6" height="3.6" fill="#d8d8d8" stroke="#2c2c2c" stroke-width="0.5"/>
<path d="M189.3,829.3 A36.1,36.1 0 0 0 177.9,855.6" fill="none" stroke="#dadada" stroke-width="0.7" stroke-dasharray="1.6 0.6"/>
<g transform="translate(214,855.6) rotate(-133.2)">
<rect x="0" y="-1.1" width="36.1" height="2.2" fill="#ffffff" stroke="#2c2c2c" stroke-width="0.8"/>
<path d="M30.5,-2.7 h4.2 v1.5 M30.5,2.7 h4.2 v-1.5" fill="none" stroke="#222" stroke-width="1"/>
</g>
<rect x="212.2" y="853.8" width="3.6" height="3.6" fill="#d8d8d8" stroke="#2c2c2c" stroke-width="0.5"/>
<path d="M369.3,811.3 A34.5,34.5 0 0 0 359.5,835.4" fill="none" stroke="#dadada" stroke-width="0.7" stroke-dasharray="1.6 0.6"/>
<g transform="translate(394,835.4) rotate(-135.7)">
<rect x="0" y="-1.1" width="34.5" height="2.2" fill="#ffffff" stroke="#2c2c2c" stroke-width="0.8"/>
<path d="M28.9,-2.7 h4.2 v1.5 M28.9,2.7 h4.2 v-1.5" fill="none" stroke="#222" stroke-width="1"/>
</g>
<rect x="392.2" y="833.6" width="3.6" height="3.6" fill="#d8d8d8" stroke="#2c2c2c" stroke-width="0.5"/>
<path d="M443.7,818.7 A19.1,19.1 0 0 1 430,824.5" fill="none" stroke="#dadada" stroke-width="0.7" stroke-dasharray="1.6 0.6"/>
<g transform="translate(430,805.4) rotate(44.1)">
<rect x="0" y="-0.9" width="19.1" height="1.8" fill="#ffffff" stroke="#2c2c2c" stroke-width="0.8"/>
<path d="M13.5,-2.7 h4.2 v1.5 M13.5,2.7 h4.2 v-1.5" fill="none" stroke="#222" stroke-width="1"/>
</g>
<rect x="428.2" y="803.6" width="3.6" height="3.6" fill="#d8d8d8" stroke="#2c2c2c" stroke-width="0.5"/>
<path d="M443.7,829.9 A19.7,19.7 0 0 0 430,824.3" fill="none" stroke="#dadada" stroke-width="0.7" stroke-dasharray="1.6 0.6"/>
<g transform="translate(430,844) rotate(-45.9)">
<rect x="0" y="-0.9" width="19.7" height="1.8" fill="#ffffff" stroke="#2c2c2c" stroke-width="0.8"/>
<path d="M14.1,-2.7 h4.2 v1.5 M14.1,2.7 h4.2 v-1.5" fill="none" stroke="#222" stroke-width="1"/>
</g>
<rect x="428.2" y="842.2" width="3.6" height="3.6" fill="#d8d8d8" stroke="#2c2c2c" stroke-width="0.5"/>
<path d="M405.7,913.7 A30.5,30.5 0 0 0 413.5,893.4" fill="none" stroke="#dadada" stroke-width="0.7" stroke-dasharray="1.6 0.6"/>
<g transform="translate(383,893.4) rotate(41.7)">
<rect x="0" y="-1.1" width="30.5" height="2.2" fill="#ffffff" stroke="#2c2c2c" stroke-width="0.8"/>
<path d="M24.9,-2.7 h4.2 v1.5 M24.9,2.7 h4.2 v-1.5" fill="none" stroke="#222" stroke-width="1"/>
</g>
<rect x="381.2" y="891.6" width="3.6" height="3.6" fill="#d8d8d8" stroke="#2c2c2c" stroke-width="0.5"/>
<path d="M468.3,870.3 A41.4,41.4 0 0 0 456.2,899.6" fill="none" stroke="#dadada" stroke-width="0.7" stroke-dasharray="1.6 0.6"/>
<g transform="translate(497.6,899.6) rotate(-135)">
<rect x="0" y="-1.1" width="41.4" height="2.2" fill="#ffffff" stroke="#2c2c2c" stroke-width="0.8"/>
<path d="M35.8,-2.7 h4.2 v1.5 M35.8,2.7 h4.2 v-1.5" fill="none" stroke="#222" stroke-width="1"/>
</g>
<rect x="495.8" y="897.8" width="3.6" height="3.6" fill="#d8d8d8" stroke="#2c2c2c" stroke-width="0.5"/>
<path d="M582.7,816.3 A35.4,35.4 0 0 0 558,806.2" fill="none" stroke="#dadada" stroke-width="0.7" stroke-dasharray="1.6 0.6"/>
<g transform="translate(558,841.6) rotate(-45.7)">
<rect x="0" y="-1.1" width="35.4" height="2.2" fill="#ffffff" stroke="#2c2c2c" stroke-width="0.8"/>
<path d="M29.8,-2.7 h4.2 v1.5 M29.8,2.7 h4.2 v-1.5" fill="none" stroke="#222" stroke-width="1"/>
</g>
<rect x="556.2" y="839.8" width="3.6" height="3.6" fill="#d8d8d8" stroke="#2c2c2c" stroke-width="0.5"/>
<path d="M779.8,794.7 A33.6,33.6 0 0 0 803.6,804.6" fill="none" stroke="#dadada" stroke-width="0.7" stroke-dasharray="1.6 0.6"/>
<g transform="translate(803.6,771) rotate(135.1)">
<rect x="0" y="-1.1" width="33.6" height="2.2" fill="#ffffff" stroke="#2c2c2c" stroke-width="0.8"/>
<path d="M28,-2.7 h4.2 v1.5 M28,2.7 h4.2 v-1.5" fill="none" stroke="#222" stroke-width="1"/>
</g>
<rect x="801.8" y="769.2" width="3.6" height="3.6" fill="#d8d8d8" stroke="#2c2c2c" stroke-width="0.5"/>
<path d="M838.1,823.1 A39.6,39.6 0 0 1 849.6,851" fill="none" stroke="#dadada" stroke-width="0.7" stroke-dasharray="1.6 0.6"/>
<g transform="translate(810,851) rotate(-44.8)">
<rect x="0" y="-1.1" width="39.6" height="2.2" fill="#ffffff" stroke="#2c2c2c" stroke-width="0.8"/>
<path d="M34,-2.7 h4.2 v1.5 M34,2.7 h4.2 v-1.5" fill="none" stroke="#222" stroke-width="1"/>
</g>
<rect x="808.2" y="849.2" width="3.6" height="3.6" fill="#d8d8d8" stroke="#2c2c2c" stroke-width="0.5"/>
<path d="M914.7,777.3 A35.1,35.1 0 0 0 889.8,766.9" fill="none" stroke="#dadada" stroke-width="0.7" stroke-dasharray="1.6 0.6"/>
<g transform="translate(889.8,802) rotate(-44.8)">
<rect x="0" y="-1.1" width="35.1" height="2.2" fill="#ffffff" stroke="#2c2c2c" stroke-width="0.8"/>
<path d="M29.5,-2.7 h4.2 v1.5 M29.5,2.7 h4.2 v-1.5" fill="none" stroke="#222" stroke-width="1"/>
</g>
<rect x="888" y="800.2" width="3.6" height="3.6" fill="#d8d8d8" stroke="#2c2c2c" stroke-width="0.5"/>
<path d="M990.7,889.7 A35.4,35.4 0 0 1 966,899.8" fill="none" stroke="#dadada" stroke-width="0.7" stroke-dasharray="1.6 0.6"/>
<g transform="translate(966,864.4) rotate(45.7)">
<rect x="0" y="-1.1" width="35.4" height="2.2" fill="#ffffff" stroke="#2c2c2c" stroke-width="0.8"/>
<path d="M29.8,-2.7 h4.2 v1.5 M29.8,2.7 h4.2 v-1.5" fill="none" stroke="#222" stroke-width="1"/>
</g>
<rect x="964.2" y="862.6" width="3.6" height="3.6" fill="#d8d8d8" stroke="#2c2c2c" stroke-width="0.5"/>
<path d="M900.3,929.7 A33,33 0 0 1 890.6,906.4" fill="none" stroke="#dadada" stroke-width="0.7" stroke-dasharray="1.6 0.6"/>
<g transform="translate(923.6,906.4) rotate(135)">
<rect x="0" y="-1.1" width="33" height="2.2" fill="#ffffff" stroke="#2c2c2c" stroke-width="0.8"/>
<path d="M27.4,-2.7 h4.2 v1.5 M27.4,2.7 h4.2 v-1.5" fill="none" stroke="#222" stroke-width="1"/>
</g>
<rect x="921.8" y="904.6" width="3.6" height="3.6" fill="#d8d8d8" stroke="#2c2c2c" stroke-width="0.5"/>
<path d="M1051.5,874.7 A20.7,20.7 0 0 0 1058.2,859.4" fill="none" stroke="#dadada" stroke-width="0.7" stroke-dasharray="1.6 0.6"/>
<g transform="translate(1037.5,859.4) rotate(47.7)">
<rect x="0" y="-0.9" width="20.7" height="1.8" fill="#ffffff" stroke="#2c2c2c" stroke-width="0.8"/>
<path d="M15.1,-2.7 h4.2 v1.5 M15.1,2.7 h4.2 v-1.5" fill="none" stroke="#222" stroke-width="1"/>
</g>
<rect x="1035.7" y="857.6" width="3.6" height="3.6" fill="#d8d8d8" stroke="#2c2c2c" stroke-width="0.5"/>
<path d="M1061.8,874.7 A21.4,21.4 0 0 1 1055.3,859.4" fill="none" stroke="#dadada" stroke-width="0.7" stroke-dasharray="1.6 0.6"/>
<g transform="translate(1076.7,859.4) rotate(134.2)">
<rect x="0" y="-0.9" width="21.4" height="1.8" fill="#ffffff" stroke="#2c2c2c" stroke-width="0.8"/>
<path d="M15.8,-2.7 h4.2 v1.5 M15.8,2.7 h4.2 v-1.5" fill="none" stroke="#222" stroke-width="1"/>
</g>
<rect x="1074.9" y="857.6" width="3.6" height="3.6" fill="#d8d8d8" stroke="#2c2c2c" stroke-width="0.5"/>
<path d="M1117.4,828.3 A37.5,37.5 0 0 1 1129.2,855.6" fill="none" stroke="#dadada" stroke-width="0.7" stroke-dasharray="1.6 0.6"/>
<g transform="translate(1091.7,855.6) rotate(-46.8)">
<rect x="0" y="-1.1" width="37.5" height="2.2" fill="#ffffff" stroke="#2c2c2c" stroke-width="0.8"/>
<path d="M31.9,-2.7 h4.2 v1.5 M31.9,2.7 h4.2 v-1.5" fill="none" stroke="#222" stroke-width="1"/>
</g>
<rect x="1089.9" y="853.8" width="3.6" height="3.6" fill="#d8d8d8" stroke="#2c2c2c" stroke-width="0.5"/>
<text x="621" y="496.6" font-size="13.2" textLength="61.4" lengthAdjust="spacingAndGlyphs" fill="#1c1c1c">BALCONY</text>
<text x="605" y="513" font-size="13.2" textLength="93" lengthAdjust="spacingAndGlyphs" fill="#1c1c1c">25'-10" X 5'-0"</text>
<text x="369.6" y="567.6" font-size="13.2" textLength="60.4" lengthAdjust="spacingAndGlyphs" fill="#1c1c1c">BALCONY</text>
<text x="358" y="584" font-size="13.2" textLength="86" lengthAdjust="spacingAndGlyphs" fill="#1c1c1c">10'-6" X 5'-6"</text>
<text x="879" y="567.4" font-size="13.2" textLength="61" lengthAdjust="spacingAndGlyphs" fill="#1c1c1c">BALCONY</text>
<text x="865" y="583.6" font-size="13.2" textLength="88.6" lengthAdjust="spacingAndGlyphs" fill="#1c1c1c">10'-10" X 5'-5"</text>
<text x="339" y="689.6" font-size="13.2" textLength="90" lengthAdjust="spacingAndGlyphs" fill="#1c1c1c">DINING ROOM</text>
<text x="344" y="705.6" font-size="13.2" textLength="79" lengthAdjust="spacingAndGlyphs" fill="#1c1c1c">13'-1" X 12'-1"</text>
<text x="629.6" y="649.6" font-size="13.2" textLength="86.8" lengthAdjust="spacingAndGlyphs" fill="#1c1c1c">LIVING ROOM</text>
<text x="627.6" y="666" font-size="13.2" textLength="91.4" lengthAdjust="spacingAndGlyphs" fill="#1c1c1c">29'-2" X 17'-2"</text>
<text x="919.6" y="716" font-size="13.2" textLength="65.4" lengthAdjust="spacingAndGlyphs" fill="#1c1c1c">BEDROOM</text>
<text x="907" y="732.6" font-size="13.2" textLength="91" lengthAdjust="spacingAndGlyphs" fill="#1c1c1c">15'-9" X 14'-9"</text>
<text x="261.6" y="786" font-size="13.2" textLength="65.4" lengthAdjust="spacingAndGlyphs" fill="#1c1c1c">BEDROOM</text>
<text x="252" y="802.4" font-size="13.2" textLength="84" lengthAdjust="spacingAndGlyphs" fill="#1c1c1c">13'-2" X 9'-4"</text>
<text x="238" y="914" font-size="13.2" textLength="55" lengthAdjust="spacingAndGlyphs" fill="#1c1c1c">KITCHEN</text>
<text x="220" y="930.4" font-size="13.2" textLength="90" lengthAdjust="spacingAndGlyphs" fill="#1c1c1c">15'-8" X 13'-4"</text>
<text x="573.6" y="809" font-size="13.2" textLength="55.4" lengthAdjust="spacingAndGlyphs" fill="#1c1c1c">POWDER</text>
<text x="561" y="825.6" font-size="13.2" textLength="81" lengthAdjust="spacingAndGlyphs" fill="#1c1c1c">6'-6" X 6'-0"</text>
<text x="705" y="785.8" font-size="13.2" textLength="58.8" lengthAdjust="spacingAndGlyphs" fill="#1c1c1c">LAUNDRY</text>
<text x="693.8" y="802.4" font-size="13.2" textLength="83.2" lengthAdjust="spacingAndGlyphs" fill="#1c1c1c">11'-4" X 5'-11"</text>
<text x="1008" y="830.6" font-size="13.2" textLength="31" lengthAdjust="spacingAndGlyphs" fill="#1c1c1c">W.I.C</text>
<text x="983.6" y="847" font-size="13.2" textLength="80" lengthAdjust="spacingAndGlyphs" fill="#1c1c1c">8'-4" X 3'-0"</text>
<text x="1020.6" y="933.6" font-size="13.2" textLength="65.8" lengthAdjust="spacingAndGlyphs" fill="#1c1c1c">BEDROOM</text>
<text x="1009.4" y="950" font-size="13.2" textLength="88.2" lengthAdjust="spacingAndGlyphs" fill="#1c1c1c">12'-6" X 10'-3"</text>
<text x="876.4" y="958" font-size="13.2" textLength="75" lengthAdjust="spacingAndGlyphs" fill="#1c1c1c">BATHROOM</text>
<text x="873.6" y="974.4" font-size="13.2" textLength="80.4" lengthAdjust="spacingAndGlyphs" fill="#1c1c1c">7'-8" X 6'-8"</text>
<text x="455" y="921" font-size="13.2" textLength="67" lengthAdjust="spacingAndGlyphs" fill="#1c1c1c">ENTRANCE</text>
<text x="392" y="789" font-size="9.7" textLength="34" lengthAdjust="spacingAndGlyphs" fill="#1c1c1c" style="stroke-width:0.28px">CLOSET</text>
<text x="928" y="921" font-size="9.7" textLength="34" lengthAdjust="spacingAndGlyphs" fill="#1c1c1c" style="stroke-width:0.28px">CLOSET</text>
<text transform="translate(420,824.5) rotate(-90)" x="-16.5" y="0" font-size="9.7" textLength="33" lengthAdjust="spacingAndGlyphs" fill="#1c1c1c" style="stroke-width:0.28px">CLOSET</text>
<text transform="translate(198,793) rotate(-90)" x="-30" y="0" font-size="13.2" textLength="60" lengthAdjust="spacingAndGlyphs" fill="#1c1c1c">BALCONY</text>
<text transform="translate(214,793) rotate(-90)" x="-41" y="0" font-size="13.2" textLength="82" lengthAdjust="spacingAndGlyphs" fill="#1c1c1c">13'-7" X 6'-3"</text>
<text transform="translate(471.6,824.7) rotate(-90)" x="-19.7" y="0" font-size="13.2" textLength="39.4" lengthAdjust="spacingAndGlyphs" fill="#1c1c1c">FOYER</text>
<text transform="translate(487.6,824.2) rotate(-90)" x="-41.8" y="0" font-size="13.2" textLength="83.6" lengthAdjust="spacingAndGlyphs" fill="#1c1c1c">9'-10" X 9'-6"</text>
<text transform="translate(397,948) rotate(-90)" x="-37" y="0" font-size="13.2" textLength="74" lengthAdjust="spacingAndGlyphs" fill="#1c1c1c">BATHROOM</text>
<text transform="translate(413,948.5) rotate(-90)" x="-39.5" y="0" font-size="13.2" textLength="79" lengthAdjust="spacingAndGlyphs" fill="#1c1c1c">7'-9" X 4'-11"</text>
<text transform="translate(1094.4,765.4) rotate(-90)" x="-29.7" y="0" font-size="13.2" textLength="59.4" lengthAdjust="spacingAndGlyphs" fill="#1c1c1c">BALCONY</text>
<text transform="translate(1110.8,764.6) rotate(-90)" x="-43.8" y="0" font-size="13.2" textLength="87.5" lengthAdjust="spacingAndGlyphs" fill="#1c1c1c">13'-4" X 3'-10"</text>
<text transform="translate(270.6,622.4) rotate(-45)" x="-30" y="0" font-size="13.2" textLength="60" lengthAdjust="spacingAndGlyphs" fill="#1c1c1c">BALCONY</text>
<text transform="translate(282,634) rotate(-45)" x="-40" y="0" font-size="13.2" textLength="80" lengthAdjust="spacingAndGlyphs" fill="#1c1c1c">13'-0" X 7'-2"</text>
<text transform="translate(1034,623) rotate(45)" x="-30" y="0" font-size="13.2" textLength="60" lengthAdjust="spacingAndGlyphs" fill="#1c1c1c">BALCONY</text>
<text transform="translate(1022.4,633) rotate(45)" x="-40" y="0" font-size="13.2" textLength="80" lengthAdjust="spacingAndGlyphs" fill="#1c1c1c">11'-11" X 6'-8"</text>
<text x="158.2" y="1028.5" font-size="22.9" textLength="198.8" lengthAdjust="spacingAndGlyphs" fill="#1c1c1c">MAIN FLOOR PLAN</text>
<line x1="156.7" y1="1036.5" x2="357.8" y2="1036.5" stroke="#222" stroke-width="1.2"/>
<text x="158.2" y="1051.8" font-size="18.1" textLength="192" lengthAdjust="spacingAndGlyphs" fill="#1c1c1c">Ceiling Height: 9'-0"</text>
</g>
<g id="header">
<text y="147" font-size="28" fill="#050505" font-weight="bold"><tspan x="75" textLength="33.6" lengthAdjust="spacingAndGlyphs">PH</tspan> <tspan x="119.6" textLength="39.8" lengthAdjust="spacingAndGlyphs">3-4</tspan> <tspan x="173" textLength="62.6" lengthAdjust="spacingAndGlyphs">1383</tspan> <tspan x="248" textLength="82" lengthAdjust="spacingAndGlyphs">HOWE</tspan> <tspan x="341.6" textLength="99.4" lengthAdjust="spacingAndGlyphs">STREET,</tspan> <tspan x="451.6" textLength="175.4" lengthAdjust="spacingAndGlyphs">VANCOUVER,</tspan> <tspan x="639.6" textLength="32.4" lengthAdjust="spacingAndGlyphs">BC</tspan></text>
<text y="205.2" font-size="21" fill="#111"><tspan x="197.9" textLength="52.9" lengthAdjust="spacingAndGlyphs">MAIN</tspan> <tspan x="259.8" textLength="65.2" lengthAdjust="spacingAndGlyphs">FLOOR</tspan> <tspan x="332.9" textLength="65.2" lengthAdjust="spacingAndGlyphs">TOTAL:</tspan> <tspan x="418.4" textLength="54" lengthAdjust="spacingAndGlyphs">1,944</tspan> <tspan x="480.3" textLength="59.6" lengthAdjust="spacingAndGlyphs">SQ.FT.</tspan></text>
<text y="233.6" font-size="21" fill="#111"><tspan x="197.9" textLength="64.1" lengthAdjust="spacingAndGlyphs">UPPER</tspan> <tspan x="269.9" textLength="64.1" lengthAdjust="spacingAndGlyphs">FLOOR</tspan> <tspan x="343" textLength="64.8" lengthAdjust="spacingAndGlyphs">TOTAL:</tspan> <tspan x="416.1" textLength="55.2" lengthAdjust="spacingAndGlyphs">1,266</tspan> <tspan x="479.2" textLength="58.5" lengthAdjust="spacingAndGlyphs">SQ.FT.</tspan></text>
<text y="261.5" font-size="21" fill="#050505" font-weight="bold"><tspan x="197.9" textLength="66.4" lengthAdjust="spacingAndGlyphs">TOTAL:</tspan> <tspan x="415" textLength="55.2" lengthAdjust="spacingAndGlyphs">3,210</tspan> <tspan x="478" textLength="60.3" lengthAdjust="spacingAndGlyphs">SQ.FT.</tspan></text>
<text y="289.6" font-size="21" fill="#111"><tspan x="197.9" textLength="86.6" lengthAdjust="spacingAndGlyphs">BALCONY</tspan> <tspan x="292.4" textLength="64.1" lengthAdjust="spacingAndGlyphs">TOTAL:</tspan> <tspan x="438.6" textLength="33.8" lengthAdjust="spacingAndGlyphs">690</tspan> <tspan x="480.3" textLength="56.2" lengthAdjust="spacingAndGlyphs">SQ.FT.</tspan></text>
<text y="317.7" font-size="21" fill="#111"><tspan x="197.9" textLength="51.7" lengthAdjust="spacingAndGlyphs">PATIO</tspan> <tspan x="256.4" textLength="64.1" lengthAdjust="spacingAndGlyphs">TOTAL:</tspan> <tspan x="436.4" textLength="34.9" lengthAdjust="spacingAndGlyphs">448</tspan> <tspan x="479.2" textLength="55.5" lengthAdjust="spacingAndGlyphs">SQ.FT.</tspan></text>
</g>
<g id="realtor-logo">
<g opacity="0.385">
<rect x="30" y="6" width="172.5" height="198" fill="#ffffff"/>
<path fill-rule="evenodd" fill="#000000" d="M32.3,8.4 H185.9 V167.1 H32.3 Z M54.1,27.7 V145.6 H96.7 V27.7 Z M115.4,27.7 V84.9 H133 A22.6,28.6 0 0 0 133,27.7 Z M115.4,87.5 V145.6 H172.3 Z"/>
</g>
<text x="30.6" y="201.4" font-size="35.8" textLength="157.6" lengthAdjust="spacingAndGlyphs" fill="#bdbdbd">REALTOR</text>
<text x="187" y="182.4" font-size="16.5" textLength="13.4" lengthAdjust="spacingAndGlyphs" fill="#bdbdbd">&#174;</text>
</g>
<g id="compass">
<circle cx="1381" cy="1006.2" r="13.7" fill="none" stroke="#111" stroke-width="0.8"/>
<line x1="1371.9" y1="1015.6" x2="1389.7" y2="997.8" stroke="#111" stroke-width="0.8"/>
<path d="M1372.5,996.5 L1389.8,997.8 L1391.2,1014.4" fill="none" stroke="#111" stroke-width="1.6"/>
<text x="1392" y="993" font-size="8.4" textLength="6" lengthAdjust="spacingAndGlyphs" fill="#111">N</text>
</g>
<g id="scale-bar">
<rect x="1437.5" y="1004.4" width="26.3" height="2" fill="#ffffff" stroke="#999" stroke-width="0.4"/>
<rect x="1411.9" y="1004.4" width="25.6" height="2.5" fill="#111"/>
<rect x="1437.5" y="1006.2" width="26.3" height="2.4" fill="#111"/>
<rect x="1463.8" y="1004.4" width="51.8" height="2.5" fill="#111"/>
<text x="1433.8" y="1016.5" font-size="8.2" textLength="5.6" lengthAdjust="spacingAndGlyphs" fill="#111">2'</text>
<text x="1459.8" y="1016.5" font-size="8.2" textLength="7.2" lengthAdjust="spacingAndGlyphs" fill="#111">4'</text>
<text x="1512" y="1016.5" font-size="8.2" textLength="7.4" lengthAdjust="spacingAndGlyphs" fill="#111">8'</text>
</g>
</svg>
</body></html>
